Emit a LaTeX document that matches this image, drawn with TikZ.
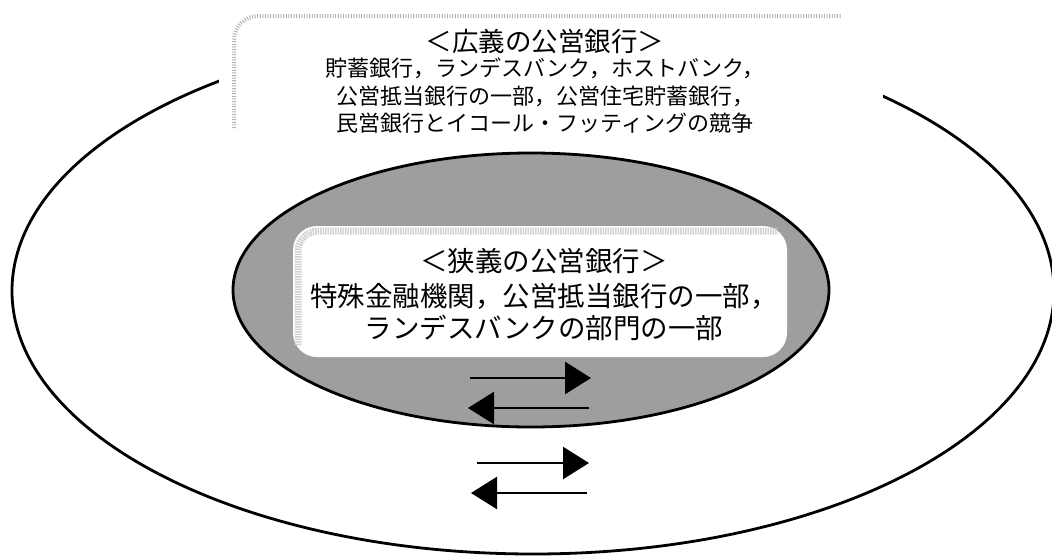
\documentclass[tikz,border=0pt]{standalone}
\usepackage{fontspec}
\newfontfamily\cjk{Noto Sans CJK JP}
\usetikzlibrary{arrows.meta}
\begin{document}
\begin{tikzpicture}[x=1pt,y=-1pt,
  outline/.style={draw=black, line width=2.8pt},
  haloin/.style={draw=black!18, line width=7pt, dash pattern=on 1.5pt off 1pt, rounded corners=20pt},
  halotop/.style={draw=black!30, line width=4pt, dash pattern=on 1pt off 1.6pt, rounded corners=24pt},
  txtbig/.style={font=\cjk\fontsize{27.5}{32.5}\selectfont, align=center, inner sep=0pt},
  txttitle/.style={font=\cjk\fontsize{26.5}{30}\selectfont, align=center, inner sep=0pt},
  txtsmall/.style={font=\cjk\fontsize{22}{27.5}\selectfont, align=center, inner sep=0pt},
  flow/.style={line width=2.6pt, -{Triangle[length=26pt,width=32pt]}}]
\useasboundingbox (0,0) rectangle (1052,557);
\fill[white] (0,0) rectangle (1052,557);
% outer ellipse (broad sense)
\draw[outline] (533,291) ellipse [x radius=521pt, y radius=263pt];
% top box masking the ellipse top
\node (broadbox) [fill=white, inner sep=0pt, minimum width=664pt, minimum height=146pt] at (551,77) {};
\draw[halotop] (234,128) -- (234,16) -- (842,16);
% inner ellipse (narrow sense)
\draw[outline, fill=black!38] (531,290) ellipse [x radius=298pt, y radius=137pt];
\node (narrowbox) [fill=white, inner sep=0pt, rounded corners=24pt, minimum width=494pt, minimum height=131pt] at (540,291.5) {};
\draw[haloin] (298,345) -- (298,231) -- (778,231);
% texts
\node[txttitle] (broadtitle) at (545,41) {＜広義の公営銀行＞};
\node[txtsmall] (broadbody) at (545,96) {貯蓄銀行，ランデスバンク，ホストバンク，\\公営抵当銀行の一部，公営住宅貯蓄銀行，\\民営銀行とイコール・フッティングの競争};
\node[txtbig] (narrowtitle) at (544,261) {＜狭義の公営銀行＞};
\node[txtbig] (narrowbody) at (544,312) {特殊金融機関，公営抵当銀行の一部，\\ランデスバンクの部門の一部};
% arrows inside inner ellipse
\coordinate (ir1) at (470,378);
\coordinate (ir2) at (591,378);
\coordinate (il1) at (589,408);
\coordinate (il2) at (468,408);
\draw[flow] (ir1) -- (ir2);
\draw[flow] (il1) -- (il2);
% arrows outside
\coordinate (or1) at (477,463);
\coordinate (or2) at (589,463);
\coordinate (ol1) at (587,493);
\coordinate (ol2) at (471,493);
\draw[flow] (or1) -- (or2);
\draw[flow] (ol1) -- (ol2);
\end{tikzpicture}
\end{document}
